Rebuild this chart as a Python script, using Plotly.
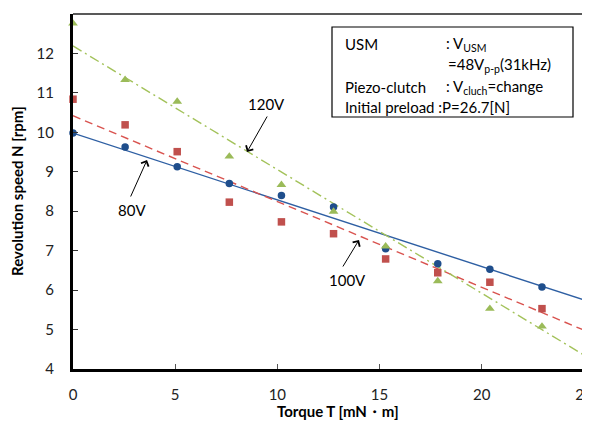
import plotly.graph_objects as go

# Torque [mN·m]
torque = [0, 2.55, 5.10, 7.65, 10.20, 12.75, 15.30, 17.85, 20.40, 22.95]
# Revolution speed [rpm]
speed_80v = [9.98, 9.63, 9.13, 8.70, 8.40, 8.11, 7.05, 6.67, 6.53, 6.08]
speed_100v = [10.84, 10.19, 9.51, 8.23, 7.73, 7.43, 6.79, 6.44, 6.20, 5.53]
speed_120v = [12.76, 11.33, 10.78, 9.39, 8.67, 7.99, 7.11, 6.23, 5.53, 5.08]

# Trend line end values at x = 0 and x = axis max
trend_x = [0, 25.3]
trend_80v = [9.98, 5.70]
trend_100v = [10.42, 4.92]
trend_120v = [12.19, 4.26]

x_ticks = [0, 5, 10, 15, 20, 25]
y_ticks = [4, 5, 6, 7, 8, 9, 10, 11, 12, 13]

FONT = "Lato"
blue_m, blue_l = "#1f4e8c", "#2e5fa3"
red_m, red_l = "#c0504d", "#d9534f"
green_m, green_l = "#9bbb59", "#a3c25a"

fig = go.Figure()

fig.add_trace(go.Scatter(x=trend_x, y=trend_80v, mode="lines",
                         line=dict(color=blue_l, width=1.4), showlegend=False))
fig.add_trace(go.Scatter(x=trend_x, y=trend_100v, mode="lines",
                         line=dict(color=red_l, width=1.4, dash="8px,5px"), showlegend=False))
fig.add_trace(go.Scatter(x=trend_x, y=trend_120v, mode="lines",
                         line=dict(color=green_l, width=1.4, dash="10px,4px,2px,4px"), showlegend=False))

fig.add_trace(go.Scatter(x=torque, y=speed_80v, mode="markers", cliponaxis=False,
                         marker=dict(symbol="circle", size=7.5, color=blue_m), showlegend=False))
fig.add_trace(go.Scatter(x=torque, y=speed_100v, mode="markers", cliponaxis=False,
                         marker=dict(symbol="square", size=7.5, color=red_m), showlegend=False))
fig.add_trace(go.Scatter(x=torque, y=speed_120v, mode="markers", cliponaxis=False,
                         marker=dict(symbol="triangle-up", size=8.5, color=green_m), showlegend=False))

# the page body has an 8px margin, so the figure is 8px smaller and offset
fig.update_layout(
    width=582, height=422,
    margin=dict(l=65, r=0, t=6, b=61, autoexpand=False),
    paper_bgcolor="white", plot_bgcolor="white",
    font=dict(family=FONT, size=15, color="#222"),
    xaxis=dict(range=[0, 25.3], tickvals=x_ticks, ticktext=[str(v) for v in x_ticks],
               showgrid=False, zeroline=False, showline=True, linecolor="black", linewidth=3,
               ticks="inside", ticklen=5, tickwidth=1, tickcolor="#555",
               ticklabelstandoff=10, ticklabeloverflow="allow", automargin=False),
    yaxis=dict(range=[4, 13], tickvals=y_ticks, ticktext=[str(v) for v in y_ticks],
               showgrid=False, zeroline=False, showline=True, linecolor="black", linewidth=3,
               ticks="inside", ticklen=5, tickwidth=1, tickcolor="#333",
               ticklabelstandoff=13, automargin=False),
)

def px_x(p):
    return (p - 73) / 517

def px_y(p):
    return (369 - p) / 355

# axis titles
fig.add_annotation(xref="paper", yref="paper", x=px_x(338), y=px_y(411),
                   xanchor="center", yanchor="middle",
                   text="<b>Torque T [mN・m]</b>", showarrow=False,
                   font=dict(size=15, color="black"))
fig.add_annotation(xref="paper", yref="paper", x=px_x(17), y=px_y(191),
                   xanchor="center", yanchor="middle",
                   text="<b>Revolution speed N [rpm]</b>", showarrow=False, textangle=-90,
                   font=dict(size=15, color="black"))

# top border of plot area
fig.add_shape(type="line", xref="paper", yref="paper", x0=0, x1=1, y0=1, y1=1,
              line=dict(color="#595959", width=2))

# info box
fig.add_shape(type="rect", xref="paper", yref="paper",
              x0=px_x(332), x1=px_x(573), y0=px_y(117), y1=px_y(27),
              line=dict(color="black", width=1.2), fillcolor="white")

box_lines = [
    (44, "USM", ": V<sub>USM</sub>"),
    (65, "", "=48V<sub>p-p</sub>(31kHz)"),
    (87, "Piezo-clutch", ": V<sub>cluch</sub>=change"),
]
for yy, left, right in box_lines:
    if left:
        fig.add_annotation(xref="paper", yref="paper", x=px_x(343), y=px_y(yy), text=left,
                           showarrow=False, xanchor="left", yanchor="middle",
                           font=dict(size=15, color="black"))
    fig.add_annotation(xref="paper", yref="paper", x=px_x(444 if left else 446), y=px_y(yy), text=right,
                       showarrow=False, xanchor="left", yanchor="middle",
                       font=dict(size=15, color="black"))
fig.add_annotation(xref="paper", yref="paper", x=px_x(343), y=px_y(107),
                   text="Initial preload :P=26.7[N]", showarrow=False,
                   xanchor="left", yanchor="middle", font=dict(size=15, color="black"))

# voltage labels with arrows
labels = [
    ("120V", 266, 104, 268, 115, 247, 152),
    ("80V", 132, 210, 130, 198, 147, 160),
    ("100V", 347, 280, 342, 268, 359, 240),
]
for txt, lx, ly, tx, ty, hx, hy in labels:
    fig.add_annotation(xref="paper", yref="paper", x=px_x(lx), y=px_y(ly), text=txt,
                       xanchor="center", yanchor="middle",
                       showarrow=False, font=dict(size=15, color="black"))
    fig.add_annotation(xref="paper", yref="paper", x=px_x(hx), y=px_y(hy),
                       ax=tx - hx, ay=ty - hy, axref="pixel", ayref="pixel",
                       text="", showarrow=True, arrowhead=4, arrowsize=1.6,
                       arrowwidth=1, arrowcolor="black")

fig.write_html("out.html")
